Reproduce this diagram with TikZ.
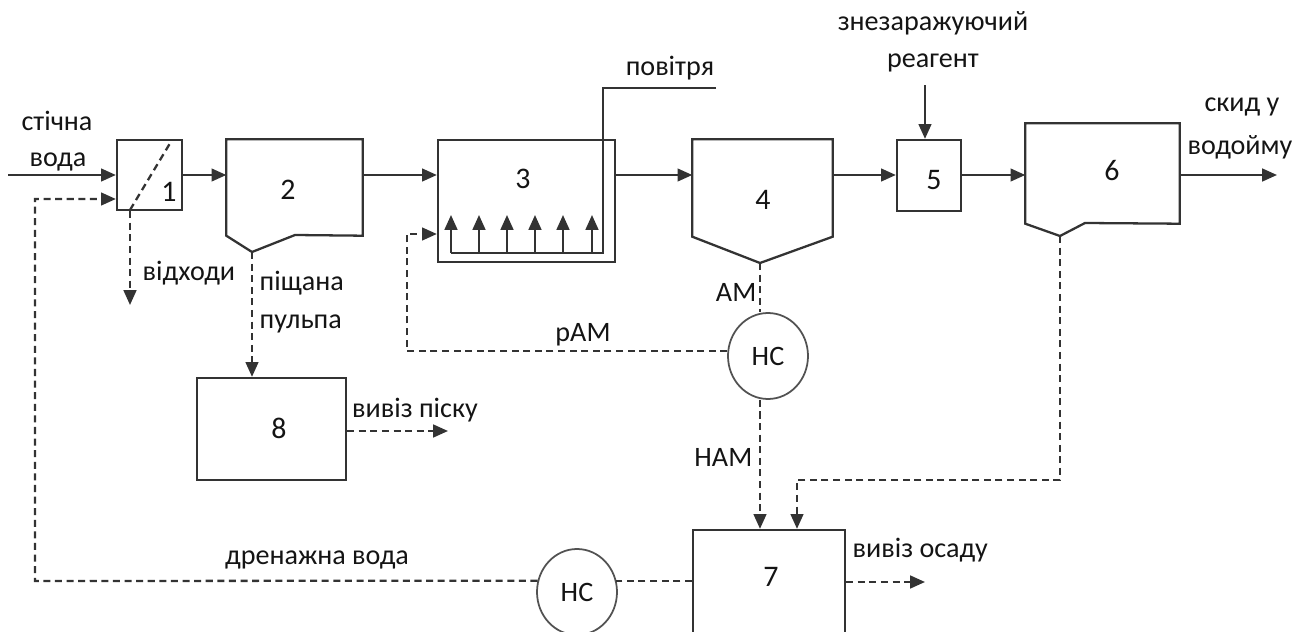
\documentclass[tikz,border=0pt]{standalone}
\usepackage{fontspec}
\setmainfont{Carlito}
\usepackage{tikz}
\usetikzlibrary{positioning, arrows.meta, calc, shapes.geometric}
\definecolor{lineC}{HTML}{333333}
\definecolor{txtC}{HTML}{141414}

\begin{document}
\begin{tikzpicture}[x=1cm, y=-1cm, unit/.style={draw=lineC, line width=0.65pt, inner sep=0pt}, body/.style={inner sep=0pt}, pump/.style={ellipse, draw=lineC!85, line width=0.5pt, minimum width=0.8cm, minimum height=0.86cm, inner sep=0pt, font=\fontsize{8}{9.6}\selectfont, text=txtC}, num/.style={font=\fontsize{8.5}{10}\selectfont, text=txtC, inner sep=0pt}, lbl/.style={font=\fontsize{8}{9.6}\selectfont, text=txtC, inner sep=0pt}, pipe/.style={draw=lineC, line width=0.65pt}, flow/.style={pipe, -{Triangle[length=4.2pt, width=3.6pt]}}, sludge/.style={flow, dash pattern=on 2pt off 1.3pt}, ret/.style={pipe, dash pattern=on 2pt off 1.3pt}]
\useasboundingbox (0,0) rectangle (12.95,6.32);
\clip (0,0) rectangle (12.95,6.32);
% units of the line
\node[unit, minimum width=0.65cm, minimum height=0.7cm] (u1) at (1.495,1.75) {};
\node[body, minimum width=1.35cm, minimum height=0.95cm] (s2) at (2.945,1.875) {};
\node[unit, minimum width=1.77cm, minimum height=1.22cm] (u3) at (5.265,2.01) {};
\node[body, minimum width=1.39cm, minimum height=0.96cm] (s4) at (7.625,1.88) {};
\node[unit, minimum width=0.64cm, minimum height=0.71cm] (u5) at (9.29,1.755) {};
\node[body, minimum width=1.53cm, minimum height=0.99cm] (s6) at (11.025,1.735) {};
\node[unit, minimum width=1.52cm, minimum height=1.30cm] (u7) at (7.69,5.95) {};
\node[unit, minimum width=1.49cm, minimum height=1.02cm] (u8) at (2.715,4.29) {};
\node[pump] (hc1) at (7.68,3.56) {НС};
\node[pump] (hc2) at (5.77,5.92) {НС};
\coordinate (v2) at (2.52,2.52);
\coordinate (v4) at (7.60,2.63);
\coordinate (v6) at (10.60,2.36);
\draw[pipe] (s2.north west) -- (s2.north east) -- (s2.south east) -- (2.95,2.35) -- (v2) -- (s2.south west) -- cycle;
\draw[pipe] (s4.north west) -- (s4.north east) -- (s4.south east) -- (v4) -- (s4.south west) -- cycle;
\draw[pipe] (s6.north west) -- (s6.north east) -- (s6.south east) -- (10.85,2.23) -- (v6) -- (s6.south west) -- cycle;
\draw[ret] (1.30,2.10) -- (1.72,1.40);
\node[num] (n1) at (1.69,1.92) {1};
\node[num] (n2) at (2.88,1.90) {2};
\node[num] (n3) at (5.23,1.79) {3};
\node[num] (n4) at (7.63,2.00) {4};
\node[num] (n5) at (9.34,1.80) {5};
\node[num] (n6) at (11.12,1.71) {6};
\node[num] (n7) at (7.71,5.77) {7};
\node[num] (n8) at (2.79,4.28) {8};
% air grid in 3
\coordinate (air) at (7.16,0.88);
\draw[pipe] (air) -- (6.03,0.88) -- (6.03,2.53) -- (4.51,2.53);
\foreach \x in {4.51,4.79,5.07,5.35,5.63,5.92} \draw[flow] (\x,2.53) -- (\x,2.15);
\node[lbl] (tair) at (6.70,0.68) {повітря};
% main flow
\coordinate (in) at (0.08,1.75);
\coordinate (out) at (12.77,1.75);
\coordinate (rg) at (9.25,0.85);
\draw[flow] (in) -- (u1.west);
\draw[flow] (u1.east) -- (s2.west |- u1);
\draw[flow] (s2.east |- u1) -- (u3.west |- u1);
\draw[flow] (u3.east |- u1) -- (s4.west |- u1);
\draw[flow] (s4.east |- u1) -- (u5.west |- u1);
\draw[flow] (u5.east |- u1) -- (s6.west |- u1);
\draw[flow] (s6.east |- u1) -- (out);
\draw[flow] (rg) -- (rg |- u5.north);
\node[lbl] (tin1) at (0.57,1.21) {стічна};
\node[lbl] (tin2) at (0.58,1.62) {вода};
\node[lbl] (trg1) at (9.33,0.23) {знезаражуючий};
\node[lbl] (trg2) at (9.33,0.63) {реагент};
\node[lbl] (tout1) at (12.42,1.07) {скид у};
\node[lbl] (tout2) at (12.40,1.47) {водойму};
% sludge and return lines
\coordinate (wst) at (1.30,3.05);
\coordinate (sand) at (4.48,4.31);
\coordinate (ra) at (4.07,2.34);
\coordinate (v6b) at (10.60,4.80);
\coordinate (sed) at (9.25,5.82);
\coordinate (dr) at (0.35,5.81);
\draw[sludge] (u1.south -| wst) -- (wst);
\draw[sludge] (v2) -- (v2 |- u8.north);
\draw[sludge] (u8.east |- sand) -- (sand);
\draw[ret] (v4) -- (v4 |- hc1.north);
\draw[sludge] (hc1.173) -| (ra) -- (ra -| u3.west);
\draw[sludge] (hc1.south -| v4) -- (v4 |- u7.north);
\draw[sludge] (v6) -- (v6b) -| ($(u7.north)+(0.28,0)$);
\draw[sludge] (u7.east |- sed) -- (sed);
\draw[ret] (u7.west |- hc2.16) -- (hc2.16);
\draw[sludge] (hc2.164) -- (dr) |- ($(u1.west)+(0,0.24)$);
\node[lbl, anchor=west] (twst) at (1.42,2.73) {відходи};
\node[lbl, anchor=west] (tsand1) at (2.59,2.83) {піщана};
\node[lbl, anchor=west] (tsand2) at (2.59,3.24) {пульпа};
\node[lbl] (tsand3) at (4.15,4.10) {вивіз піску};
\node[lbl, anchor=east] (tam) at (7.57,2.92) {АМ};
\node[lbl] (tram) at (5.83,3.35) {рАМ};
\node[lbl, anchor=east] (tnam) at (7.53,4.57) {НАМ};
\node[lbl, anchor=west] (tsed) at (8.52,5.50) {вивіз осаду};
\node[lbl] (tdr) at (3.17,5.60) {дренажна вода};
\end{tikzpicture}
\end{document}
